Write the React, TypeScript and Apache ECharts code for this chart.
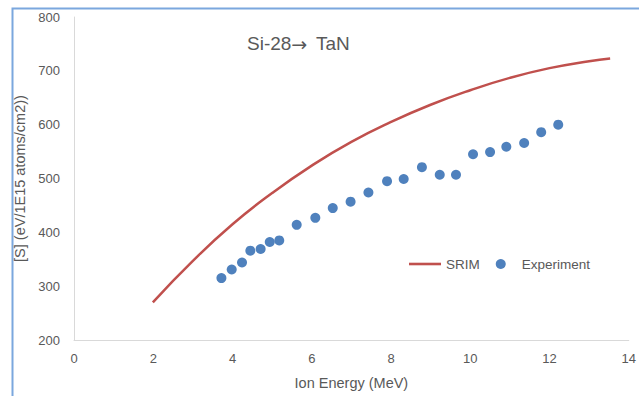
import React, { useEffect, useRef } from "react";
import * as echarts from "echarts";

const srimEnergy = [1.99, 3, 4, 5, 6, 7, 8, 9, 10, 11, 12, 13, 13.53];
const srimStopping = [270, 347, 415, 473, 524, 568, 605, 637, 664, 687, 705, 718, 723];

const expEnergy = [3.72, 3.98, 4.24, 4.45, 4.71, 4.94, 5.18, 5.62, 6.09, 6.53, 6.98, 7.43, 7.9, 8.32, 8.78, 9.23, 9.64, 10.07, 10.5, 10.91, 11.36, 11.79, 12.22];
const expStopping = [315, 331, 344, 366, 369, 382, 385, 414, 427, 445, 457, 474, 495, 499, 521, 507, 507, 545, 549, 559, 566, 586, 600];

const FONT = "'Liberation Sans', Arial, sans-serif";
const GREY = "#595959";

export default function App() {
  const ref = useRef<HTMLDivElement>(null);
  useEffect(() => {
    if (!ref.current) return;
    const chart = echarts.init(ref.current, undefined, { renderer: "svg" });
    chart.setOption({
      animation: false,
      backgroundColor: "#ffffff",
      title: {
        text: "{a|Si-28}{b|\u2192}{a|\u2009 TaN}",
        left: 242,
        top: 29,
        textStyle: {
          fontFamily: FONT,
          fontSize: 19,
          fontWeight: "normal",
          color: GREY,
          rich: {
            a: { fontFamily: FONT, fontSize: 19, color: GREY },
            b: { fontFamily: "'DejaVu Sans', sans-serif", fontSize: 19, color: GREY },
          },
        },
      },
      legend: {
        left: 404,
        top: 252,
        itemWidth: 32,
        itemHeight: 10,
        itemGap: 16,
        textStyle: { fontFamily: FONT, fontSize: 13.5, color: GREY },
        data: [
          { name: "SRIM", icon: "path://M0,0H32V2.6H0Z", itemStyle: { color: "#C0504D" } },
          { name: "Experiment", icon: "circle" },
        ],
      },
      grid: { left: 74, top: 17, right: 1, bottom: 56, containLabel: false },
      xAxis: {
        type: "value",
        min: 0,
        max: 14,
        interval: 2,
        name: "Ion Energy (MeV)",
        nameLocation: "middle",
        nameGap: 35,
        nameTextStyle: { fontFamily: FONT, fontSize: 14.5, color: GREY },
        axisLine: { show: true, lineStyle: { color: "#D9D9D9", width: 1 } },
        axisTick: { show: false },
        splitLine: { show: false },
        axisLabel: { fontFamily: FONT, fontSize: 13, color: GREY, margin: 12, showMaxLabel: true },
      },
      yAxis: {
        type: "value",
        min: 200,
        max: 800,
        interval: 100,
        name: "[S] (eV/1E15 atoms/cm2))",
        nameLocation: "middle",
        nameGap: 34,
        nameTextStyle: { fontFamily: FONT, fontSize: 14.5, color: GREY },
        axisLine: { show: true, lineStyle: { color: "#D9D9D9", width: 1 } },
        axisTick: { show: false },
        splitLine: { show: false },
        axisLabel: { fontFamily: FONT, fontSize: 13, color: GREY, margin: 14 },
      },
      series: [
        {
          name: "SRIM",
          type: "line",
          smooth: true,
          symbol: "none",
          data: srimEnergy.map((e, i) => [e, srimStopping[i]]),
          lineStyle: { color: "#C0504D", width: 2.5 },
          itemStyle: { color: "#C0504D" },
        },
        {
          name: "Experiment",
          type: "scatter",
          symbol: "circle",
          symbolSize: 10,
          data: expEnergy.map((e, i) => [e, expStopping[i]]),
          itemStyle: { color: "#4F81BD", opacity: 1 },
        },
      ],
      graphic: [
        {
          type: "polyline",
          shape: { points: [[12.5, 396], [12.5, 8.5], [639, 8.5]] },
          style: { stroke: "#7BA7DE", lineWidth: 2, fill: "none" },
          silent: true,
        },
      ],
    });
    return () => chart.dispose();
  }, []);
  return (
    <div
      ref={ref}
      style={{ position: "absolute", left: 0, top: 0, width: 639, height: 396 }}
    />
  );
}
